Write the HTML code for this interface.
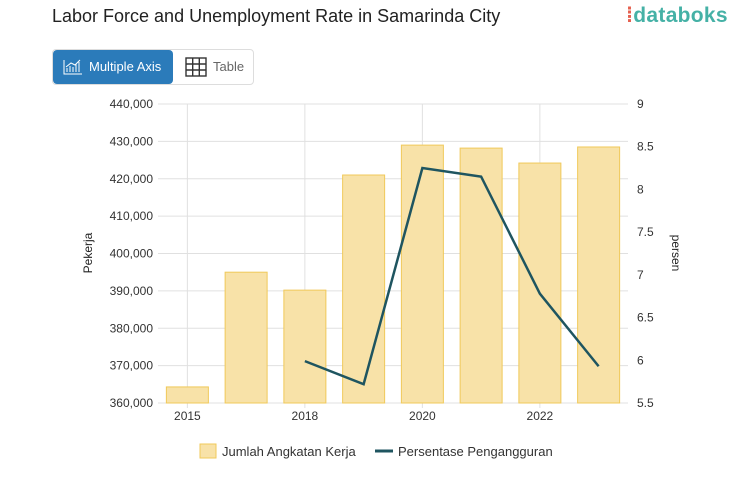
<!DOCTYPE html>
<html><head><meta charset="utf-8"><style>
body{margin:0;width:753px;height:498px;background:#fff;font-family:"Liberation Sans",sans-serif;overflow:hidden;position:relative}
#title{position:absolute;left:52px;top:6px;font-size:18px;color:#222}
#logo{position:absolute;left:626px;top:4px;font-size:21px;color:#45b1a6;font-weight:bold;letter-spacing:0.3px}
#btns{position:absolute;left:52px;top:49px;width:200px;height:34px;border:1px solid #ddd;border-radius:4px}
#b1{position:absolute;left:0;top:0;width:120px;height:34px;background:#2b7bba;border-radius:4px;color:#fff;font-size:13px;line-height:34px;text-indent:36px}
#b2{position:absolute;left:132px;top:0;height:34px;color:#666;font-size:13px;line-height:34px;text-indent:28px}
</style></head><body>
<div id="title">Labor Force and Unemployment Rate in Samarinda City</div>
<div id="logo"><span style="color:#e5604f">⁞</span>databoks</div>
<div id="btns">
<div id="b1">Multiple Axis<svg style="position:absolute;left:10px;top:8px" width="20" height="18"><path d="M1 2V16H19" stroke="#fff" fill="none"/><path d="M4 14V10M7 14V8M10 14V9M13 14V6M16 14V4M3 9L8 5L12 7L17 2" stroke="#fff" fill="none"/></svg></div>
<div id="b2"><svg style="position:absolute;left:0;top:7px" width="22" height="20"><rect x="1" y="1" width="20" height="18" fill="none" stroke="#333" stroke-width="1.4"/><path d="M7.7 1V19M14.3 1V19M1 7H21M1 13H21" stroke="#333" stroke-width="1.4"/></svg>Table</div>
</div>
<svg id="chart" width="753" height="498" style="position:absolute;left:0;top:0"></svg>
<script>
const categories=["2015","2017","2018","2019","2020","2021","2022","2023"];
const laborForce=[364300,395000,390200,421000,429000,428200,424200,428500];
const unemployment=[null,null,5.99,5.72,8.25,8.15,6.78,5.93];
const leftTicks=[360000,370000,380000,390000,400000,410000,420000,430000,440000];
const rightTicks=[5.5,6,6.5,7,7.5,8,8.5,9];
const xLabelIdx=[0,2,4,6];
const NS="http://www.w3.org/2000/svg";
const svg=document.getElementById('chart');
const L=158,R=628,T=104,B=403;
const step=(R-L)/categories.length;
const x=i=>L+step*(i+0.5);
const yL=v=>B-(v-360000)/80000*(B-T);
const yR=v=>B-(v-5.5)/3.5*(B-T);
function el(t,a,txt){const e=document.createElementNS(NS,t);for(const k in a)e.setAttribute(k,a[k]);if(txt!==undefined)e.textContent=txt;svg.appendChild(e);return e;}
leftTicks.forEach(v=>{
 const g=el('line',{x1:L,x2:R,y1:yL(v),y2:yL(v),stroke:'#e0e0e0'});
 
 
 const t=el('text',{x:L-5,y:yL(v)+4,'text-anchor':'end','font-size':12,fill:'#333'},v.toLocaleString('en-US'));
 
 
});
xLabelIdx.forEach(i=>{
 const g=el('line',{x1:x(i),x2:x(i),y1:T,y2:B+5,stroke:'#e0e0e0'});
 
 
 const t=el('text',{x:x(i),y:B+17,'text-anchor':'middle','font-size':12,fill:'#333'},categories[i]);
 
 
});
rightTicks.forEach(v=>{
 const t=el('text',{x:R+9,y:yR(v)+4,'font-size':12,fill:'#333'},String(v));
 
 
});
laborForce.forEach((v,i)=>{
 const b=el('rect',{x:x(i)-21,y:yL(v),width:42,height:B-yL(v),fill:'#f8e2a8',stroke:'#f0c95a','stroke-width':1});
 
 
});
let d='';unemployment.forEach((v,i)=>{if(v==null)return;d+=(d?'L':'M')+x(i)+' '+yR(v);});
const p=el('path',{d:d,fill:'none',stroke:'#1f5560','stroke-width':2.5});


const yl=el('text',{transform:'translate(92 253) rotate(-90)','text-anchor':'middle','font-size':12,fill:'#222'},'Pekerja');


const yr=el('text',{transform:'translate(672 253) rotate(90)','text-anchor':'middle','font-size':12,fill:'#222'},'persen');


const l1=el('rect',{x:200,y:444,width:16,height:14,fill:'#f8e2a8',stroke:'#f0c95a'});


const l1t=el('text',{x:222,y:456,'font-size':13,fill:'#333'},'Jumlah Angkatan Kerja');


const l2=el('line',{x1:375,x2:393,y1:451,y2:451,stroke:'#1f5560','stroke-width':3});


const l2t=el('text',{x:398,y:456,'font-size':13,fill:'#333'},'Persentase Pengangguran');


</script>
</body></html>
